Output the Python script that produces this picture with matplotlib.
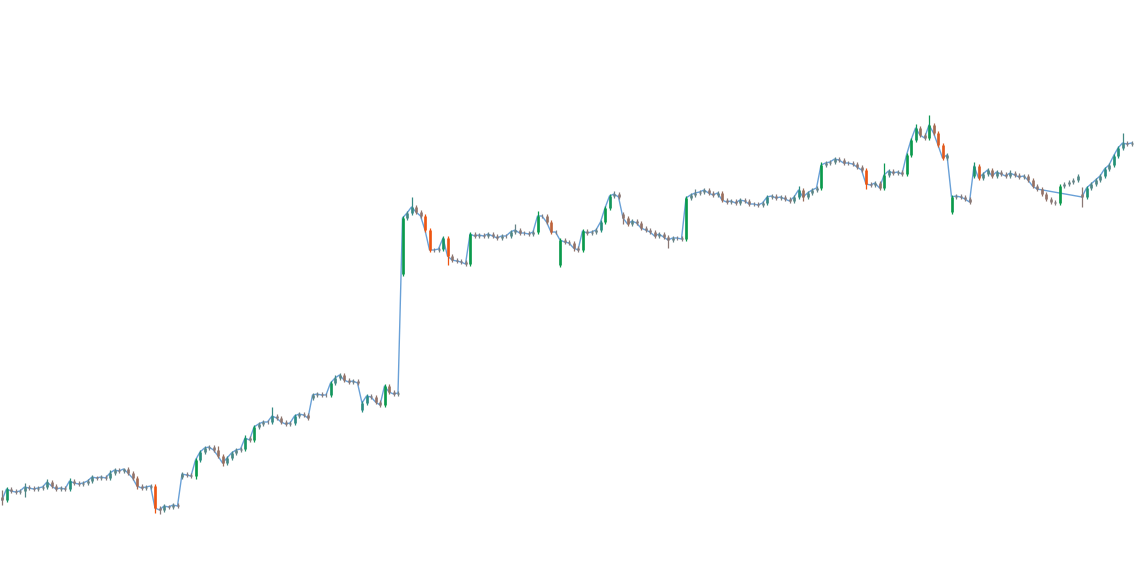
import numpy as np
import matplotlib.pyplot as plt
from matplotlib.colors import LinearSegmentedColormap

# 收盘价（每根K线）
close = [74, 85, 83, 82, 83, 87, 86, 85, 86, 87,
         92, 88, 85, 86, 85, 93, 91, 90, 91, 93,
         97, 96, 97, 96, 101, 104, 103, 105, 101, 96,
         88, 86, 87, 88, 66, 64, 68, 67, 69, 68,
         100, 99, 98, 114, 122, 126, 127, 124, 118, 111,
         116, 121, 124, 125, 136, 134, 147, 150, 152, 152,
         158, 156, 152, 150, 151, 158, 160, 159, 156, 179,
         180, 179, 179, 191, 196, 199, 194, 192, 193, 191,
         171, 178, 177, 172, 169, 188, 182, 180, 181, 356,
         361, 367, 362, 358, 344, 324, 324, 325, 336, 318,
         314, 313, 312, 310, 340, 338, 339, 338, 340, 338,
         336, 338, 338, 342, 344, 341, 341, 340, 342, 358,
         358, 352, 342, 342, 334, 332, 331, 326, 324, 343,
         341, 342, 344, 352, 366, 378, 380, 377, 356, 350,
         353, 351, 346, 344, 342, 338, 340, 337, 334, 336,
         336, 335, 376, 379, 381, 382, 384, 381, 379, 381,
         374, 372, 373, 371, 374, 373, 370, 370, 369, 371,
         377, 378, 376, 377, 375, 373, 377, 384, 377, 381,
         384, 386, 409, 411, 412, 415, 414, 411, 411, 410,
         407, 404, 390, 389, 391, 386, 399, 403, 401, 402,
         400, 419, 434, 446, 439, 436, 449, 441, 429, 416,
         419, 377, 378, 377, 375, 372, 408, 396, 400, 404,
         398, 402, 400, 398, 401, 399, 397, 398, 394, 388,
         385, 380, 375, 372, 371, 388, 390, 392, 394, 398,
         377, 386, 390, 394, 398, 405, 409, 418, 426, 431,
         430, 431]
open_first = 77

# 跳空开盘的K线：开盘价不等于前一根收盘价
open_fix_idx = [40, 69, 80, 89, 124, 138, 211, 216, 240]
open_fix_val = [97, 176, 164, 300, 309, 360, 362, 398, 380]

# 上影线 / 下影线长度
wick_up = [7, 2, 2, 2, 2, 4, 2, 2, 2, 2, 3, 2, 2, 2, 2, 3, 2, 2, 2, 2,
           2, 1, 2, 2, 3, 2, 2, 1, 2, 2, 2, 2, 2, 2, 2, 2, 2, 1, 2, 2,
           2, 2, 2, 2, 2, 2, 2, 2, 4, 2, 2, 2, 2, 2, 3, 2, 2, 2, 2, 2,
           9, 2, 2, 2, 2, 2, 2, 2, 2, 2, 2, 2, 2, 2, 3, 2, 2, 2, 2, 2,
           2, 2, 2, 2, 2, 2, 2, 2, 2, 2, 2, 10, 2, 2, 2, 2, 2, 2, 2, 2,
           2, 2, 2, 2, 2, 2, 2, 2, 2, 2, 2, 2, 2, 2, 6, 2, 2, 2, 2, 5,
           2, 2, 2, 2, 2, 2, 2, 2, 2, 2, 2, 2, 2, 2, 2, 2, 3, 2, 2, 2,
           2, 2, 2, 2, 2, 2, 2, 2, 2, 2, 2, 2, 2, 2, 4, 2, 2, 2, 2, 2,
           2, 2, 2, 2, 2, 2, 2, 2, 2, 2, 2, 2, 2, 2, 2, 2, 2, 4, 2, 2,
           2, 2, 3, 2, 2, 2, 2, 2, 2, 2, 2, 2, 2, 2, 2, 2, 12, 2, 2, 2,
           2, 2, 2, 4, 2, 2, 10, 2, 2, 2, 2, 2, 2, 2, 2, 2, 4, 2, 2, 2,
           2, 2, 2, 2, 3, 2, 2, 2, 2, 2, 2, 2, 2, 2, 2, 2, 2, 2, 2, 2,
           7, 2, 2, 2, 2, 2, 2, 2, 2, 10, 2, 2]
wick_dn = [5, 2, 2, 2, 2, 6, 2, 2, 2, 2, 2, 2, 2, 2, 2, 2, 2, 2, 2, 2,
           2, 2, 2, 2, 2, 2, 2, 2, 2, 2, 3, 2, 2, 2, 5, 4, 2, 2, 2, 2,
           2, 2, 2, 3, 2, 2, 2, 2, 2, 3, 2, 2, 2, 2, 2, 2, 2, 2, 2, 2,
           2, 2, 2, 2, 2, 2, 2, 2, 2, 2, 2, 2, 2, 2, 2, 2, 2, 2, 2, 2,
           2, 2, 2, 2, 2, 2, 2, 2, 2, 2, 2, 2, 2, 2, 2, 2, 2, 2, 2, 9,
           2, 2, 2, 2, 2, 2, 2, 2, 2, 2, 2, 2, 2, 2, 2, 2, 2, 2, 2, 2,
           2, 2, 2, 2, 2, 2, 2, 3, 2, 2, 2, 2, 2, 2, 2, 2, 2, 2, 6, 2,
           2, 2, 2, 2, 2, 2, 2, 2, 8, 2, 2, 2, 2, 2, 2, 2, 2, 2, 2, 2,
           2, 2, 2, 2, 2, 2, 2, 2, 2, 2, 2, 2, 2, 2, 2, 2, 2, 2, 4, 2,
           2, 2, 2, 2, 2, 2, 2, 2, 2, 2, 2, 2, 5, 2, 2, 2, 2, 2, 2, 2,
           2, 2, 2, 2, 2, 2, 2, 2, 2, 2, 2, 2, 2, 2, 2, 2, 2, 2, 2, 2,
           2, 2, 2, 2, 2, 2, 2, 2, 2, 2, 2, 2, 2, 2, 2, 2, 2, 2, 2, 2,
           10, 2, 2, 2, 2, 2, 2, 2, 2, 2, 2, 2]

# 这一段K线没有连线
gap_start, gap_end = 231, 240

n = len(close)
x = np.arange(n)
c = np.array(close, float)
o = np.concatenate([[open_first], c[:-1]])
o[open_fix_idx] = open_fix_val
top = np.maximum(o, c)
bot = np.minimum(o, c)
high = top + np.array(wick_up[:n])
low = bot - np.array(wick_dn[:n])

# 涨跌颜色：跌=橙，平=灰，涨=绿
cmap = LinearSegmentedColormap.from_list(
    'updown', ['#ee5511', '#9a6e5c', '#808088', '#2a8c84', '#0a9a4c'])
t = np.clip((c - o) / 14, -1, 1) * 0.5 + 0.5
colors = cmap(t)

fig = plt.figure(figsize=(11.34, 5.74), dpi=100)
ax = fig.add_axes([0, 0, 1, 1])

# 收盘价连线（缺口那段不画）
line_idx = [i for i in range(n) if not (gap_start <= i < gap_end)]
ax.plot(x[line_idx], c[line_idx], color='#4f90d0', lw=1.0, alpha=0.85, zorder=1)
# 影线 + 实体
ax.vlines(x, low, high, colors=colors, lw=0.9, zorder=2)
ax.vlines(x, bot, top, colors=colors, lw=1.9, zorder=3)

ax.set_xlim(-2 / 4.5, 1132 / 4.5)
ax.set_ylim(0, 574)
ax.axis('off')
fig.savefig('out.png', dpi=100)
